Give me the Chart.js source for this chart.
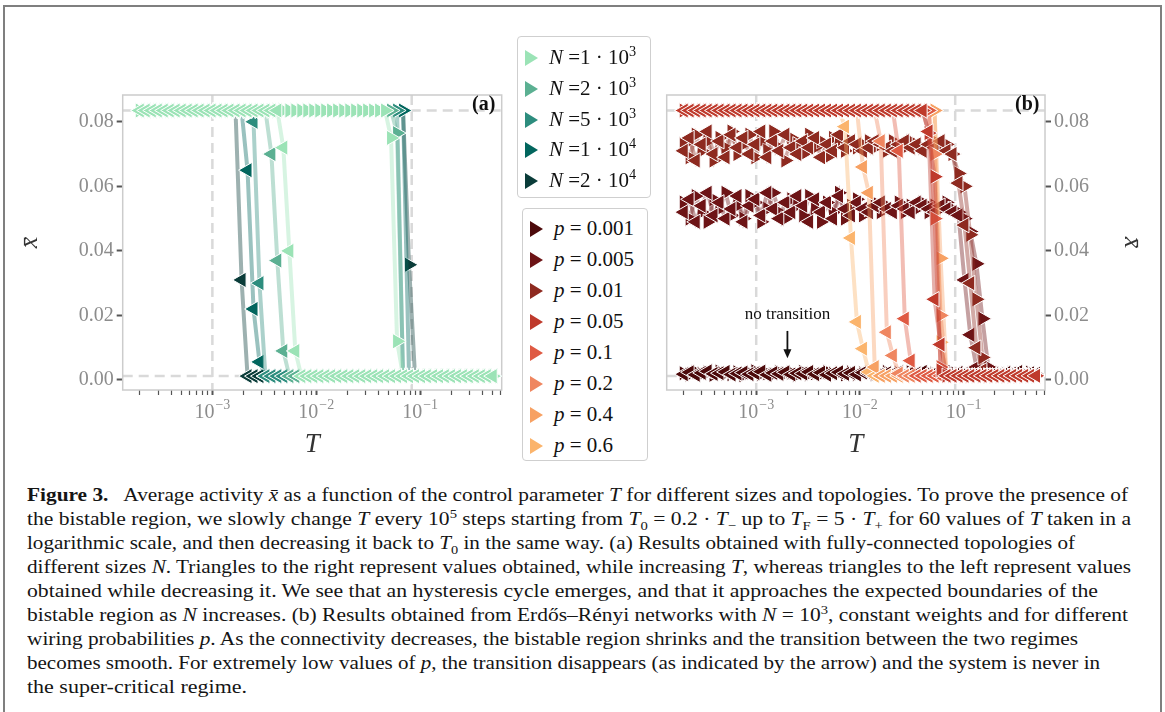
<!DOCTYPE html>
<html>
<head>
<meta charset="utf-8">
<script src="https://cdn.jsdelivr.net/npm/chart.js@4.4.1/dist/chart.umd.min.js"></script>
<style>
  body { margin: 0; background: #fff; width: 1165px; height: 712px; overflow: hidden; position: relative; font-family: 'Liberation Serif', 'DejaVu Serif', serif; }
  .frame { position: absolute; left: 3px; top: 5px; width: 1155px; height: 730px; border: 2px solid #7f7f7f; }
  canvas { position: absolute; }
  #chartA { left: 15px; top: 80px; }
  #chartB { left: 650px; top: 80px; }
  .tag { position: absolute; top: 92px; font-weight: bold; font-size: 20px; color: #111; }
  .legend { position: absolute; border: 1px solid #cfcfcf; border-radius: 4px; background: #fff; }
  .legend .row { position: absolute; left: 7px; height: 30px; line-height: 30px; white-space: nowrap; font-size: 21px; color: #111; }
  .legend .tri { display: inline-block; width: 0; height: 0; border-top: 8px solid transparent; border-bottom: 8px solid transparent; border-left: 13px solid; vertical-align: -2px; margin-right: 11px; }
  .legend sup { font-size: 0.68em; line-height: 0; vertical-align: 0.55em; }
  .caption { position: absolute; left: 27px; top: 483px; font-size: 19px; color: #151515; }
  .caption div { height: 24px; line-height: 24px; white-space: nowrap; }
  .caption span.line { display: inline-block; transform-origin: 0 50%; }
  .caption sup, .caption sub { font-size: 0.68em; line-height: 0; }
</style>
</head>
<body>
<div class="frame"></div>
<canvas id="chartA" width="495" height="385"></canvas>
<canvas id="chartB" width="497" height="385"></canvas>
<div class="tag" style="left:472px">(a)</div>
<div class="tag" style="left:1015px">(b)</div>
<div class="legend" id="legendN" style="left:517px; top:36px; width:132px; height:160px"></div>
<div class="legend" id="legendP" style="left:522px; top:208px; width:124px; height:251px"></div>
<div class="caption">
  <div><span class="line"><b>Figure 3.</b>&nbsp;&nbsp; Average activity <i>x̄</i> as a function of the control parameter <i>T</i> for different sizes and topologies. To prove the presence of</span></div>
  <div><span class="line">the bistable region, we slowly change <i>T</i> every 10<sup>5</sup> steps starting from <i>T</i><sub>0</sub> = 0.2 · <i>T</i><sub>−</sub> up to <i>T</i><sub>F</sub> = 5 · <i>T</i><sub>+</sub> for 60 values of <i>T</i> taken in a</span></div>
  <div><span class="line">logarithmic scale, and then decreasing it back to <i>T</i><sub>0</sub> in the same way. (a) Results obtained with fully-connected topologies of</span></div>
  <div><span class="line">different sizes <i>N</i>. Triangles to the right represent values obtained, while increasing <i>T</i>, whereas triangles to the left represent values</span></div>
  <div><span class="line">obtained while decreasing it. We see that an hysteresis cycle emerges, and that it approaches the expected boundaries of the</span></div>
  <div><span class="line">bistable region as <i>N</i> increases. (b) Results obtained from Erdős–Rényi networks with <i>N</i> = 10<sup>3</sup>, constant weights and for different</span></div>
  <div><span class="line">wiring probabilities <i>p</i>. As the connectivity decreases, the bistable region shrinks and the transition between the two regimes</span></div>
  <div><span class="line">becomes smooth. For extremely low values of <i>p</i>, the transition disappears (as indicated by the arrow) and the system is never in</span></div>
  <div><span class="line">the super-critical regime.</span></div>
</div>
<script>
// Control parameter T (60 log-spaced values, shared by every sweep)
const T = [
  2.00e-4, 2.28e-4, 2.61e-4, 2.98e-4, 3.40e-4, 3.88e-4, 4.43e-4, 5.06e-4, 5.78e-4, 6.60e-4,
  7.53e-4, 8.60e-4, 9.82e-4, 1.12e-3, 1.28e-3, 1.46e-3, 1.67e-3, 1.91e-3, 2.18e-3, 2.49e-3,
  2.84e-3, 3.24e-3, 3.70e-3, 4.22e-3, 4.82e-3, 5.51e-3, 6.29e-3, 7.18e-3, 8.20e-3, 9.36e-3,
  1.07e-2, 1.22e-2, 1.39e-2, 1.59e-2, 1.82e-2, 2.08e-2, 2.37e-2, 2.71e-2, 3.09e-2, 3.53e-2,
  4.03e-2, 4.60e-2, 5.25e-2, 6.00e-2, 6.85e-2, 7.82e-2, 8.93e-2, 0.102, 0.116, 0.133,
  0.152, 0.173, 0.198, 0.226, 0.258, 0.294, 0.336, 0.384, 0.438, 0.500
];

// Panel (a): fully connected, different sizes N
const sizeMant = ['1', '2', '5', '1', '2'];
const sizeExp = ['3', '3', '3', '4', '4'];
const nColors = ['#9be3b6', '#5bb092', '#2d8d7e', '#02665e', '#0a3c39'];

// increasing T (right triangles)
const n1e3Inc = [
  .0835, .0835, .0835, .0835, .0835, .0835, .0835, .0835, .0835, .0835,
  .0835, .0835, .0835, .0835, .0835, .0835, .0835, .0835, .0835, .0835,
  .0835, .0835, .0835, .0835, .0835, .0835, .0835, .0835, .0835, .0835,
  .0835, .0835, .0835, .0835, .0835, .0835, .0835, .0835, .0835, .0835,
  .0835, .0835, .075, .012, .0012, .0012, .0012, .0012, .0012, .0012,
  .0012, .0012, .0012, .0012, .0012, .0012, .0012, .0012, .0012, .0012
];
const n2e3Inc = [
  .0835, .0835, .0835, .0835, .0835, .0835, .0835, .0835, .0835, .0835,
  .0835, .0835, .0835, .0835, .0835, .0835, .0835, .0835, .0835, .0835,
  .0835, .0835, .0835, .0835, .0835, .0835, .0835, .0835, .0835, .0835,
  .0835, .0835, .0835, .0835, .0835, .0835, .0835, .0835, .0835, .0835,
  .0835, .0835, .0835, .0765, .0012, .0012, .0012, .0012, .0012, .0012,
  .0012, .0012, .0012, .0012, .0012, .0012, .0012, .0012, .0012, .0012
];
const n5e3Inc = [
  .0835, .0835, .0835, .0835, .0835, .0835, .0835, .0835, .0835, .0835,
  .0835, .0835, .0835, .0835, .0835, .0835, .0835, .0835, .0835, .0835,
  .0835, .0835, .0835, .0835, .0835, .0835, .0835, .0835, .0835, .0835,
  .0835, .0835, .0835, .0835, .0835, .0835, .0835, .0835, .0835, .0835,
  .0835, .0835, .0835, .0835, .0012, .0012, .0012, .0012, .0012, .0012,
  .0012, .0012, .0012, .0012, .0012, .0012, .0012, .0012, .0012, .0012
];
const n1e4Inc = [
  .0835, .0835, .0835, .0835, .0835, .0835, .0835, .0835, .0835, .0835,
  .0835, .0835, .0835, .0835, .0835, .0835, .0835, .0835, .0835, .0835,
  .0835, .0835, .0835, .0835, .0835, .0835, .0835, .0835, .0835, .0835,
  .0835, .0835, .0835, .0835, .0835, .0835, .0835, .0835, .0835, .0835,
  .0835, .0835, .0835, .0835, .0835, .0012, .0012, .0012, .0012, .0012,
  .0012, .0012, .0012, .0012, .0012, .0012, .0012, .0012, .0012, .0012
];
const n2e4Inc = [
  .0835, .0835, .0835, .0835, .0835, .0835, .0835, .0835, .0835, .0835,
  .0835, .0835, .0835, .0835, .0835, .0835, .0835, .0835, .0835, .0835,
  .0835, .0835, .0835, .0835, .0835, .0835, .0835, .0835, .0835, .0835,
  .0835, .0835, .0835, .0835, .0835, .0835, .0835, .0835, .0835, .0835,
  .0835, .0835, .0835, .0835, .0835, .0357, .0012, .0012, .0012, .0012,
  .0012, .0012, .0012, .0012, .0012, .0012, .0012, .0012, .0012, .0012
];
// decreasing T (left triangles), listed on the same T grid
const n1e3Dec = [
  .0835, .0835, .0835, .0835, .0835, .0835, .0835, .0835, .0835, .0835,
  .0835, .0835, .0835, .0835, .0835, .0835, .0835, .0835, .0835, .0835,
  .0835, .0835, .0835, .0835, .072, .040, .009, .0012, .0012, .0012,
  .0012, .0012, .0012, .0012, .0012, .0012, .0012, .0012, .0012, .0012,
  .0012, .0012, .0012, .0012, .0012, .0012, .0012, .0012, .0012, .0012,
  .0012, .0012, .0012, .0012, .0012, .0012, .0012, .0012, .0012, .0012
];
const n2e3Dec = [
  .0835, .0835, .0835, .0835, .0835, .0835, .0835, .0835, .0835, .0835,
  .0835, .0835, .0835, .0835, .0835, .0835, .0835, .0835, .0835, .0835,
  .0835, .0835, .070, .037, .009, .0012, .0012, .0012, .0012, .0012,
  .0012, .0012, .0012, .0012, .0012, .0012, .0012, .0012, .0012, .0012,
  .0012, .0012, .0012, .0012, .0012, .0012, .0012, .0012, .0012, .0012,
  .0012, .0012, .0012, .0012, .0012, .0012, .0012, .0012, .0012, .0012
];
const n5e3Dec = [
  .0835, .0835, .0835, .0835, .0835, .0835, .0835, .0835, .0835, .0835,
  .0835, .0835, .0835, .0835, .0835, .0835, .0835, .0835, .0835, .080,
  .030, .0012, .0012, .0012, .0012, .0012, .0012, .0012, .0012, .0012,
  .0012, .0012, .0012, .0012, .0012, .0012, .0012, .0012, .0012, .0012,
  .0012, .0012, .0012, .0012, .0012, .0012, .0012, .0012, .0012, .0012,
  .0012, .0012, .0012, .0012, .0012, .0012, .0012, .0012, .0012, .0012
];
const n1e4Dec = [
  .0835, .0835, .0835, .0835, .0835, .0835, .0835, .0835, .0835, .0835,
  .0835, .0835, .0835, .0835, .0835, .0835, .0835, .0835, .065, .022,
  .0056, .0012, .0012, .0012, .0012, .0012, .0012, .0012, .0012, .0012,
  .0012, .0012, .0012, .0012, .0012, .0012, .0012, .0012, .0012, .0012,
  .0012, .0012, .0012, .0012, .0012, .0012, .0012, .0012, .0012, .0012,
  .0012, .0012, .0012, .0012, .0012, .0012, .0012, .0012, .0012, .0012
];
const n2e4Dec = [
  .0835, .0835, .0835, .0835, .0835, .0835, .0835, .0835, .0835, .0835,
  .0835, .0835, .0835, .0835, .0835, .0835, .0835, .031, .0012, .0012,
  .0012, .0012, .0012, .0012, .0012, .0012, .0012, .0012, .0012, .0012,
  .0012, .0012, .0012, .0012, .0012, .0012, .0012, .0012, .0012, .0012,
  .0012, .0012, .0012, .0012, .0012, .0012, .0012, .0012, .0012, .0012,
  .0012, .0012, .0012, .0012, .0012, .0012, .0012, .0012, .0012, .0012
];

// Panel (b): Erdos-Renyi, N = 10^3, wiring probability p
const pValues = ['0.001', '0.005', '0.01', '0.05', '0.1', '0.2', '0.4', '0.6'];
const pColors = ['#4c0a0b', '#6d1416', '#8e2a20', '#bf3a2c', '#df5a43', '#ef8660', '#f7a163', '#fbb46c'];
const pLayer = [8, 7, 6, 1, 2, 3, 4, 5]; // 1 = drawn on top

const incP0001 = [
  .0021, .0017, .0025, .0019, .0023, .0016, .0026, .0020, .0018, .0024,
  .0015, .0022, .0027, .0019, .0021, .0017, .0024, .0020, .0023, .0016,
  .0025, .0019, .0021, .0018, .0026, .0020, .0022, .0017, .0024, .0019,
  .0021, .0023, .0018, .0020, .0025, .0017, .0022, .0019, .0024, .0021,
  .0018, .0023, .0020, .0016, .0022, .0025, .0019, .0021, .0017, .0023,
  .0020, .0018, .0024, .0021, .0019, .0022, .0017, .0020, .0023, .0018
];
const decP0001 = [
  .0018, .0024, .0016, .0022, .0027, .0019, .0021, .0025, .0017, .0020,
  .0023, .0018, .0021, .0026, .0016, .0022, .0019, .0024, .0017, .0021,
  .0020, .0025, .0018, .0023, .0016, .0021, .0024, .0019, .0022, .0017,
  .0023, .0020, .0025, .0018, .0021, .0019, .0024, .0016, .0022, .0020,
  .0025, .0017, .0021, .0023, .0019, .0018, .0022, .0020, .0024, .0016,
  .0021, .0023, .0019, .0017, .0022, .0020, .0025, .0018, .0021, .0019
];
const incP0005 = [
  .055, .050, .057, .052, .049, .056, .053, .058, .051, .054,
  .050, .057, .055, .049, .053, .058, .052, .050, .056, .054,
  .051, .057, .053, .049, .055, .052, .058, .050, .054, .056,
  .051, .053, .055, .052, .054, .053, .055, .052, .054, .053,
  .055, .052, .054, .053, .055, .053, .052, .050, .046, .036,
  .019, .004, .0013, .0013, .0013, .0013, .0013, .0013, .0013, .0013
];
const decP0005 = [
  .052, .056, .049, .054, .058, .051, .055, .050, .053, .057,
  .049, .054, .056, .051, .058, .053, .050, .055, .052, .057,
  .054, .049, .056, .052, .055, .050, .057, .053, .051, .055,
  .053, .052, .054, .055, .053, .052, .054, .053, .052, .055,
  .054, .053, .052, .054, .053, .052, .051, .031, .014, .004,
  .0013, .0013, .0013, .0013, .0013, .0013, .0013, .0013, .0013, .0013
];
const incP001 = [
  .073, .069, .076, .071, .074, .068, .075, .072, .077, .070,
  .073, .076, .069, .074, .071, .077, .072, .068, .075, .073,
  .070, .076, .072, .074, .069, .075, .073, .071, .074, .072,
  .073, .074, .072, .073, .071, .074, .073, .072, .074, .073,
  .072, .073, .074, .072, .073, .070, .064, .060, .045, .025,
  .007, .002, .0013, .0013, .0013, .0013, .0013, .0013, .0013, .0013
];
const decP001 = [
  .071, .075, .068, .073, .077, .070, .074, .069, .076, .072,
  .075, .070, .073, .077, .069, .074, .071, .076, .072, .070,
  .074, .072, .075, .069, .073, .071, .076, .072, .074, .073,
  .071, .072, .074, .073, .072, .071, .073, .074, .072, .073,
  .071, .073, .072, .074, .071, .070, .061, .048, .030, .010,
  .003, .0013, .0013, .0013, .0013, .0013, .0013, .0013, .0013, .0013
];
const incP005 = [
  .0835, .0835, .0835, .0835, .0835, .0835, .0835, .0835, .0835, .0835,
  .0835, .0835, .0835, .0835, .0835, .0835, .0835, .0835, .0835, .0835,
  .0835, .0835, .0835, .0835, .0835, .0835, .0835, .0835, .0835, .0835,
  .0835, .0835, .0835, .0835, .0835, .0835, .0835, .0835, .0835, .0835,
  .0835, .0765, .063, .003, .0013, .0013, .0013, .0013, .0013, .0013,
  .0013, .0013, .0013, .0013, .0013, .0013, .0013, .0013, .0013, .0013
];
const decP005 = [
  .0835, .0835, .0835, .0835, .0835, .0835, .0835, .0835, .0835, .0835,
  .0835, .0835, .0835, .0835, .0835, .0835, .0835, .0835, .0835, .0835,
  .0835, .0835, .0835, .0835, .0835, .0835, .0835, .0835, .0835, .0835,
  .0835, .0835, .0835, .0835, .0835, .0835, .0835, .0835, .0835, .0835,
  .0835, .077, .025, .011, .0013, .0013, .0013, .0013, .0013, .0013,
  .0013, .0013, .0013, .0013, .0013, .0013, .0013, .0013, .0013, .0013
];
const incP01 = [
  .0835, .0835, .0835, .0835, .0835, .0835, .0835, .0835, .0835, .0835,
  .0835, .0835, .0835, .0835, .0835, .0835, .0835, .0835, .0835, .0835,
  .0835, .0835, .0835, .0835, .0835, .0835, .0835, .0835, .0835, .0835,
  .0835, .0835, .0835, .0835, .0835, .0835, .0835, .0835, .0835, .0835,
  .0835, .0835, .050, .004, .0013, .0013, .0013, .0013, .0013, .0013,
  .0013, .0013, .0013, .0013, .0013, .0013, .0013, .0013, .0013, .0013
];
const decP01 = [
  .0835, .0835, .0835, .0835, .0835, .0835, .0835, .0835, .0835, .0835,
  .0835, .0835, .0835, .0835, .0835, .0835, .0835, .0835, .0835, .0835,
  .0835, .0835, .0835, .0835, .0835, .0835, .0835, .0835, .0835, .0835,
  .0835, .0835, .0835, .0835, .0835, .0835, .071, .019, .006, .0013,
  .0013, .0013, .0013, .0013, .0013, .0013, .0013, .0013, .0013, .0013,
  .0013, .0013, .0013, .0013, .0013, .0013, .0013, .0013, .0013, .0013
];
const incP02 = [
  .0835, .0835, .0835, .0835, .0835, .0835, .0835, .0835, .0835, .0835,
  .0835, .0835, .0835, .0835, .0835, .0835, .0835, .0835, .0835, .0835,
  .0835, .0835, .0835, .0835, .0835, .0835, .0835, .0835, .0835, .0835,
  .0835, .0835, .0835, .0835, .0835, .0835, .0835, .0835, .0835, .0835,
  .0835, .0835, .070, .020, .0013, .0013, .0013, .0013, .0013, .0013,
  .0013, .0013, .0013, .0013, .0013, .0013, .0013, .0013, .0013, .0013
];
const decP02 = [
  .0835, .0835, .0835, .0835, .0835, .0835, .0835, .0835, .0835, .0835,
  .0835, .0835, .0835, .0835, .0835, .0835, .0835, .0835, .0835, .0835,
  .0835, .0835, .0835, .0835, .0835, .0835, .0835, .0835, .0835, .0835,
  .0835, .0835, .0835, .074, .0148, .0076, .002, .0013, .0013, .0013,
  .0013, .0013, .0013, .0013, .0013, .0013, .0013, .0013, .0013, .0013,
  .0013, .0013, .0013, .0013, .0013, .0013, .0013, .0013, .0013, .0013
];
const incP04 = [
  .0835, .0835, .0835, .0835, .0835, .0835, .0835, .0835, .0835, .0835,
  .0835, .0835, .0835, .0835, .0835, .0835, .0835, .0835, .0835, .0835,
  .0835, .0835, .0835, .0835, .0835, .0835, .0835, .0835, .0835, .0835,
  .0835, .0835, .0835, .0835, .0835, .0835, .0835, .0835, .0835, .0835,
  .0835, .0835, .0835, .0377, .0013, .0013, .0013, .0013, .0013, .0013,
  .0013, .0013, .0013, .0013, .0013, .0013, .0013, .0013, .0013, .0013
];
const decP04 = [
  .0835, .0835, .0835, .0835, .0835, .0835, .0835, .0835, .0835, .0835,
  .0835, .0835, .0835, .0835, .0835, .0835, .0835, .0835, .0835, .0835,
  .0835, .0835, .0835, .0835, .0835, .0835, .0835, .0835, .0835, .0835,
  .066, .058, .004, .0013, .0013, .0013, .0013, .0013, .0013, .0013,
  .0013, .0013, .0013, .0013, .0013, .0013, .0013, .0013, .0013, .0013,
  .0013, .0013, .0013, .0013, .0013, .0013, .0013, .0013, .0013, .0013
];
const incP06 = [
  .0835, .0835, .0835, .0835, .0835, .0835, .0835, .0835, .0835, .0835,
  .0835, .0835, .0835, .0835, .0835, .0835, .0835, .0835, .0835, .0835,
  .0835, .0835, .0835, .0835, .0835, .0835, .0835, .0835, .0835, .0835,
  .0835, .0835, .0835, .0835, .0835, .0835, .0835, .0835, .0835, .0835,
  .0835, .0835, .0835, .0117, .0013, .0013, .0013, .0013, .0013, .0013,
  .0013, .0013, .0013, .0013, .0013, .0013, .0013, .0013, .0013, .0013
];
const decP06 = [
  .0835, .0835, .0835, .0835, .0835, .0835, .0835, .0835, .0835, .0835,
  .0835, .0835, .0835, .0835, .0835, .0835, .0835, .0835, .0835, .0835,
  .0835, .0835, .0835, .0835, .0835, .0835, .0835, .0785, .044, .018,
  .0097, .0025, .0013, .0013, .0013, .0013, .0013, .0013, .0013, .0013,
  .0013, .0013, .0013, .0013, .0013, .0013, .0013, .0013, .0013, .0013,
  .0013, .0013, .0013, .0013, .0013, .0013, .0013, .0013, .0013, .0013
];

// Axes and guides
const yTicks = [0, 0.02, 0.04, 0.06, 0.08];
const xMajor = [1e-3, 1e-2, 1e-1];
const xExp = ['−3', '−2', '−1'];
const refT = [1e-3, 0.083];      // dashed vertical guides
const refX = [0.0835, 0.0012];   // dashed horizontal guides
const noteT = 2e-3, noteY = 0.0202, arrowFrom = 0.0152, arrowTo = 0.0067;

const serif = "'Liberation Serif', 'DejaVu Serif', serif";

function hexA(hex, a) {
    const n = parseInt(hex.slice(1), 16);
    return `rgba(${(n >> 16) & 255}, ${(n >> 8) & 255}, ${n & 255}, ${a})`;
}

function sweep(ys, color, rot, order) {
    return {
        data: ys.map((y, i) => ({ x: T[i], y: y })),
        borderColor: hexA(color, 0.4),
        borderWidth: 4,
        tension: 0,
        pointStyle: 'triangle',
        pointRotation: rot,
        pointRadius: 9,
        pointBackgroundColor: color,
        pointBorderColor: '#ffffff',
        pointBorderWidth: 1,
        order: order
    };
}

// log minor ticks between the axis limits
function logTicks(min, max) {
    const out = [];
    for (let e = -5; e <= 0; e++) {
        for (let m = 1; m <= 9; m++) {
            const v = m * Math.pow(10, e);
            if (v >= min && v <= max) out.push({ value: v });
        }
    }
    return out;
}

function isDecade(v) {
    const l = Math.log10(v);
    return Math.abs(l - Math.round(l)) < 1e-6;
}

const guides = {
    id: 'guides',
    beforeDatasetsDraw(chart) {
        const { ctx, chartArea: a, scales: { x, y } } = chart;
        ctx.save();
        ctx.strokeStyle = '#d9d9d9';
        ctx.lineWidth = 2.5;
        ctx.setLineDash([10, 6]);
        refT.forEach(t => {
            const px = x.getPixelForValue(t);
            ctx.beginPath(); ctx.moveTo(px, a.top); ctx.lineTo(px, a.bottom); ctx.stroke();
        });
        refX.forEach(v => {
            const py = y.getPixelForValue(v);
            ctx.beginPath(); ctx.moveTo(a.left, py); ctx.lineTo(a.right, py); ctx.stroke();
        });
        ctx.setLineDash([]);
        ctx.strokeStyle = '#cccccc';
        ctx.lineWidth = 1.5;
        ctx.strokeRect(a.left, a.top, a.width, a.height);
        ctx.restore();
    },
    afterDraw(chart) {
        // decade labels with raised exponents
        const { ctx, chartArea: a, scales: { x } } = chart;
        ctx.save();
        ctx.fillStyle = '#8c8c8c';
        ctx.textBaseline = 'alphabetic';
        ctx.textAlign = 'left';
        xMajor.forEach((v, i) => {
            const px = x.getPixelForValue(v);
            ctx.font = `20px ${serif}`;
            const w1 = ctx.measureText('10').width;
            ctx.font = `14px ${serif}`;
            const w2 = ctx.measureText(xExp[i]).width;
            const x0 = px - (w1 + w2 + 1) / 2;
            ctx.font = `20px ${serif}`;
            ctx.fillText('10', x0, a.bottom + 28);
            ctx.font = `14px ${serif}`;
            ctx.fillText(xExp[i], x0 + w1 + 1, a.bottom + 19);
        });
        ctx.restore();
    }
};

const note = {
    id: 'note',
    afterDatasetsDraw(chart) {
        const { ctx, scales: { x, y } } = chart;
        const px = x.getPixelForValue(noteT);
        ctx.save();
        ctx.fillStyle = '#111';
        ctx.font = `17px ${serif}`;
        ctx.textAlign = 'center';
        ctx.textBaseline = 'middle';
        ctx.fillText('no transition', px, y.getPixelForValue(noteY));
        const y0 = y.getPixelForValue(arrowFrom);
        const y1 = y.getPixelForValue(arrowTo);
        ctx.strokeStyle = '#111';
        ctx.lineWidth = 1.8;
        ctx.beginPath(); ctx.moveTo(px, y0); ctx.lineTo(px, y1 - 6); ctx.stroke();
        ctx.beginPath();
        ctx.moveTo(px, y1); ctx.lineTo(px - 4, y1 - 9); ctx.lineTo(px + 4, y1 - 9);
        ctx.closePath(); ctx.fill();
        ctx.restore();
    }
};

function makePanel(id, datasets, side, axisWidth, padding, plugins) {
    const xMin = 1.37e-4, xMax = 0.61;
    return new Chart(document.getElementById(id), {
        type: 'line',
        data: { datasets: datasets },
        options: {
            responsive: false,
            animation: false,
            devicePixelRatio: 1,
            events: [],
            layout: { padding: padding, autoPadding: false },
            plugins: { legend: { display: false }, tooltip: { enabled: false } },
            scales: {
                x: {
                    type: 'logarithmic',
                    min: xMin,
                    max: xMax,
                    afterBuildTicks: ax => { ax.ticks = logTicks(xMin, xMax); },
                    ticks: { callback: () => '', autoSkip: false, maxRotation: 0 },
                    grid: {
                        drawOnChartArea: false,
                        tickLength: 5,
                        tickColor: '#555',
                        tickWidth: c => (c.tick && isDecade(c.tick.value)) ? 2 : 1.2
                    },
                    border: { display: false },
                    title: { display: true, text: 'T', color: '#333', font: { family: serif, size: 27, style: 'italic' }, padding: { top: 4, bottom: 4 } },
                    afterFit: s => { s.height = 75; }
                },
                y: {
                    position: side,
                    min: -0.0031,
                    max: 0.0883,
                    afterBuildTicks: ax => { ax.ticks = yTicks.map(v => ({ value: v })); },
                    ticks: { callback: v => v.toFixed(2), color: '#8c8c8c', font: { family: serif, size: 20 }, padding: 3 },
                    grid: { drawOnChartArea: false, tickLength: 6, tickColor: '#555', tickWidth: 2 },
                    border: { display: false },
                    title: { display: true, text: 'x̄', color: '#333', font: { family: serif, size: 26, style: 'italic' }, padding: 0 },
                    afterFit: s => { s.width = axisWidth; }
                }
            }
        },
        plugins: plugins
    });
}

// Legends
function buildLegends() {
    const ln = document.getElementById('legendN');
    sizeMant.forEach((m, i) => {
        const row = document.createElement('div');
        row.className = 'row';
        row.style.top = (5 + i * 30.75) + 'px';
        row.innerHTML = `<span class="tri" style="border-left-color:${nColors[i]}"></span><i>N</i> =${m} · 10<sup>${sizeExp[i]}</sup>`;
        ln.appendChild(row);
    });
    const lp = document.getElementById('legendP');
    pValues.forEach((p, i) => {
        const row = document.createElement('div');
        row.className = 'row';
        row.style.top = (3.5 + i * 31) + 'px';
        row.innerHTML = `<span class="tri" style="border-left-color:${pColors[i]}"></span><i>p</i> = ${p}`;
        lp.appendChild(row);
    });
}

// Caption lines stretched to the widths of the printed figure
function fitCaption() {
    const widths = [1101, 1104, 1048, 1104, 1071, 1101, 1051, 1073, 220];
    document.querySelectorAll('.caption span.line').forEach((s, i) => {
        const w = s.getBoundingClientRect().width;
        s.style.transform = `scaleX(${widths[i] / w})`;
    });
}

document.addEventListener('DOMContentLoaded', () => {
    buildLegends();
    fitCaption();

    const nInc = [n1e3Inc, n2e3Inc, n5e3Inc, n1e4Inc, n2e4Inc];
    const nDec = [n1e3Dec, n2e3Dec, n5e3Dec, n1e4Dec, n2e4Dec];
    const setsA = [];
    nColors.forEach((c, i) => {
        setsA.push(sweep(nDec[i], c, 270, 2 * i + 1));
        setsA.push(sweep(nInc[i], c, 90, 2 * i + 2));
    });

    const pInc = [incP0001, incP0005, incP001, incP005, incP01, incP02, incP04, incP06];
    const pDec = [decP0001, decP0005, decP001, decP005, decP01, decP02, decP04, decP06];
    const setsB = [];
    pColors.forEach((c, i) => {
        setsB.push(sweep(pDec[i], c, 270, 2 * pLayer[i] - 1));
        setsB.push(sweep(pInc[i], c, 90, 2 * pLayer[i]));
    });

    makePanel('chartA', setsA, 'left', 107.7, { top: 11, right: 8.3, left: 0, bottom: 0 }, [guides]);
    makePanel('chartB', setsB, 'right', 102, { top: 11, right: 0, left: 16.7, bottom: 0 }, [guides, note]);
});
</script>
</body>
</html>
